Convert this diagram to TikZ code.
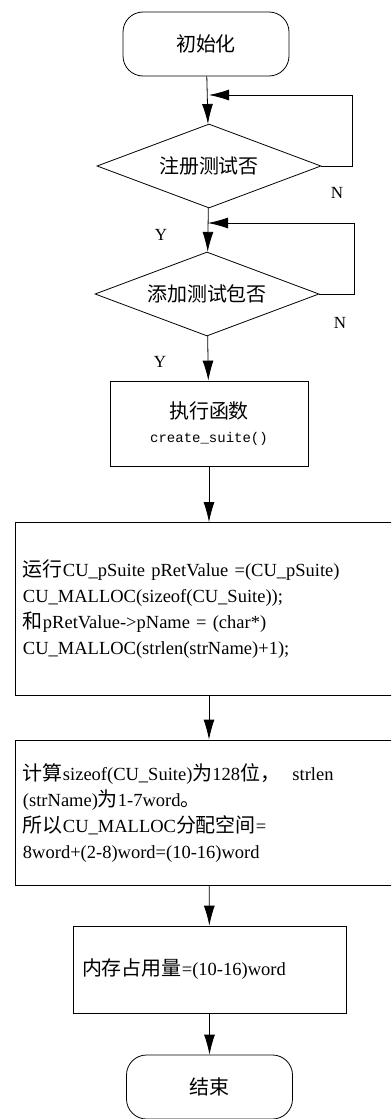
\documentclass[tikz,border=0pt]{standalone}
\usepackage{fontspec}
\setmainfont{Liberation Serif}
\newfontfamily\cjk[Scale=1.08]{Noto Sans CJK SC}
\newfontfamily\codefont{Liberation Mono}
\usetikzlibrary{shapes.geometric,arrows.meta}

\begin{document}
\begin{tikzpicture}[x=1pt,y=-1pt,line width=0.8pt,
  every node/.style={font=\fontsize{18.5}{26}\selectfont},
  term/.style={draw,rounded corners=20pt,minimum width=166pt,minimum height=64pt,inner sep=0pt},
  dec/.style={draw,diamond,aspect=2.67,minimum width=224pt,minimum height=84pt,inner sep=0pt},
  proc/.style={draw,inner ysep=0pt},
  yn/.style={font=\fontsize{17}{17}\selectfont},
  flow/.style={-{Latex[length=20pt,width=11pt]}}]
\useasboundingbox (0,0) rectangle (391,1119);
\clip (0,0) rectangle (391,1119);

\node[term] (init) at (206,44) {\cjk 初始化};
\node[dec] (reg) at (209,166) {\cjk 注册测试否};
\node[dec] (add) at (207,294) {\cjk 添加测试包否};
\node[proc,minimum width=198pt,minimum height=85pt,align=center] (func) at (209,423.5)
  {{\cjk 执行函数}\\[-2pt]{\codefont\fontsize{14}{14}\selectfont create\_suite()}};
\node[proc,inner xsep=8pt,text width=372pt,minimum height=173pt,align=left] (alloc) at (209,609)
  {{\cjk 运行}CU\_pSuite pRetValue =(CU\_pSuite)\\
   CU\_MALLOC(sizeof(CU\_Suite));\\
   {\cjk 和}pRetValue->pName = (char*)\\
   CU\_MALLOC(strlen(strName)+1);};
\node[proc,inner xsep=8pt,text width=372pt,minimum height=145pt,align=left] (calc) at (209,812.5)
  {{\cjk 计算}sizeof(CU\_Suite){\cjk 为}128{\cjk 位，}\ \ strlen\\
   (strName){\cjk 为}1-7word{\cjk 。}\\
   {\cjk 所以}CU\_MALLOC{\cjk 分配空间}=\\
   8word+(2-8)word=(10-16)word};
\node[proc,inner xsep=9pt,text width=255pt,minimum height=87pt,align=left] (mem) at (209.5,969.5)
  {{\cjk 内存占用量}=(10-16)word};
\node[term] (stop) at (209.5,1087) {\cjk 结束};

% loop back points
\coordinate (j1) at (209,95);
\coordinate (j2) at (208,223);

\node[yn] (n1) at (337,193) {N};
\node[yn] (y1) at (161,235) {Y};
\node[yn] (n2) at (340,323) {N};
\node[yn] (y2) at (160,362) {Y};

\draw[flow] (init) -- (reg);
\draw[flow] (reg.east) -- ++(31,0) |- (j1);
\draw[flow] (reg) -- (add);
\draw[flow] (add.east) -- ++(35,0) |- (j2);
\draw[flow] (add) -- (func);
\draw[flow] (func) -- (alloc);
\draw[flow] (alloc) -- (calc);
\draw[flow] (calc) -- (mem);
\draw[flow] (mem) -- (stop);
\end{tikzpicture}
\end{document}
